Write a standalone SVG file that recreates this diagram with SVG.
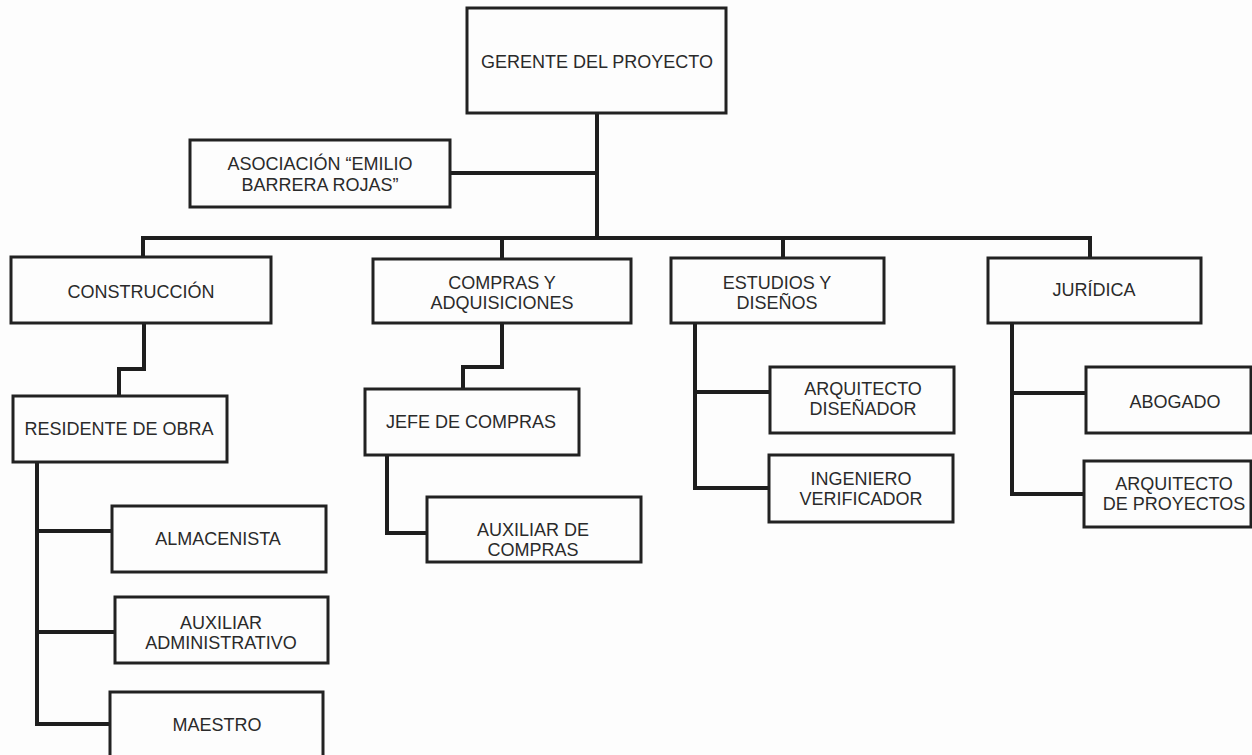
<svg xmlns="http://www.w3.org/2000/svg" width="1252" height="755" viewBox="0 0 1252 755">
<style>
.box{fill:#fdfdfd;stroke:#222;stroke-width:3}
.t{font-family:"Liberation Sans",Arial,sans-serif;font-size:18px;fill:#2a2a2a;text-anchor:middle}
.c{fill:none;stroke:#1e1e1e;stroke-width:4;stroke-linejoin:miter;stroke-linecap:square}
</style>
<rect x="0" y="0" width="1252" height="755" fill="#fdfdfd"/>
<g id="connectors">
<path class="c" d="M597,113 V238"/>
<path class="c" d="M450,173 H597"/>
<path class="c" d="M143,257 V238 H1090 V258"/>
<path class="c" d="M502,238 V259"/>
<path class="c" d="M783,238 V258"/>
<path class="c" d="M144,323 V369 H119 V396"/>
<path class="c" d="M502,323 V367 H463 V389"/>
<path class="c" d="M37,462 V724 H110"/>
<path class="c" d="M37,531 H112"/>
<path class="c" d="M37,632 H115"/>
<path class="c" d="M387,455 V533 H427"/>
<path class="c" d="M695,323 V488 H769"/>
<path class="c" d="M695,392 H770"/>
<path class="c" d="M1012,323 V494 H1084"/>
<path class="c" d="M1012,393 H1086"/>
</g>
<g id="gerente"><rect class="box" x="467" y="8" width="259" height="105"/><text class="t" x="597" y="68">GERENTE DEL PROYECTO</text></g>
<g id="asociacion"><rect class="box" x="190" y="140" width="260" height="67"/><text class="t" x="320" y="170">ASOCIACIÓN “EMILIO</text><text class="t" x="320" y="191">BARRERA ROJAS”</text></g>
<g id="construccion"><rect class="box" x="11" y="257" width="260" height="66"/><text class="t" x="141" y="298">CONSTRUCCIÓN</text></g>
<g id="compras"><rect class="box" x="373" y="259" width="258" height="64"/><text class="t" x="502" y="289">COMPRAS Y</text><text class="t" x="502" y="309">ADQUISICIONES</text></g>
<g id="estudios"><rect class="box" x="671" y="258" width="213" height="65"/><text class="t" x="777" y="289">ESTUDIOS Y</text><text class="t" x="777" y="309">DISEÑOS</text></g>
<g id="juridica"><rect class="box" x="988" y="258" width="213" height="65"/><text class="t" x="1094" y="296">JURÍDICA</text></g>
<g id="residente"><rect class="box" x="13" y="396" width="214" height="66"/><text class="t" x="119" y="435">RESIDENTE DE OBRA</text></g>
<g id="jefe"><rect class="box" x="365" y="389" width="214" height="66"/><text class="t" x="471" y="428">JEFE DE COMPRAS</text></g>
<g id="almacenista"><rect class="box" x="112" y="506" width="214" height="66"/><text class="t" x="218" y="545">ALMACENISTA</text></g>
<g id="auxadmin"><rect class="box" x="115" y="597" width="213" height="66"/><text class="t" x="221" y="629">AUXILIAR</text><text class="t" x="221" y="649">ADMINISTRATIVO</text></g>
<g id="maestro"><rect class="box" x="110" y="692" width="213" height="70"/><text class="t" x="217" y="731">MAESTRO</text></g>
<g id="auxcompras"><rect class="box" x="427" y="497" width="214" height="65"/><text class="t" x="533" y="536">AUXILIAR DE</text><text class="t" x="533" y="556">COMPRAS</text></g>
<g id="arqdis"><rect class="box" x="770" y="367" width="184" height="66"/><text class="t" x="863" y="395">ARQUITECTO</text><text class="t" x="863" y="415">DISEÑADOR</text></g>
<g id="ingeniero"><rect class="box" x="769" y="455" width="184" height="67"/><text class="t" x="861" y="485">INGENIERO</text><text class="t" x="861" y="505">VERIFICADOR</text></g>
<g id="abogado"><rect class="box" x="1086" y="367" width="165" height="66"/><text class="t" x="1175" y="408">ABOGADO</text></g>
<g id="arqproy"><rect class="box" x="1084" y="461" width="167" height="66"/><text class="t" x="1174" y="490">ARQUITECTO</text><text class="t" x="1174" y="510">DE PROYECTOS</text></g>
</svg>
